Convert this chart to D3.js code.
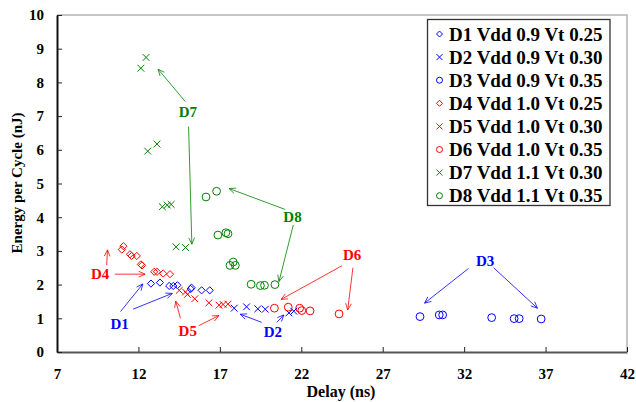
<!DOCTYPE html>
<html>
<head>
<meta charset="utf-8">
<script src="https://d3js.org/d3.v7.min.js"></script>
<style>
  body { margin: 0; background: #fff; }
  text { font-family: "Liberation Serif", "Times New Roman", serif; font-weight: bold; }
</style>
</head>
<body>
<svg id="chart" width="636" height="402"></svg>
<script>
// series data: [delay (ns), energy (nJ)]
var d1 = [[12.77, 2.03], [13.32, 2.06], [13.89, 1.96], [14.14, 1.96], [14.39, 1.98], [15.21, 1.87], [15.26, 1.91], [15.88, 1.83], [16.38, 1.83]];
var d2 = [[17.88, 1.30], [18.64, 1.34], [19.33, 1.28], [19.79, 1.27], [21.24, 1.16], [21.54, 1.21]];
var d3Pts = [[29.29, 1.05], [30.47, 1.10], [30.68, 1.10], [33.69, 1.02], [35.07, 0.99], [35.38, 0.99], [36.73, 0.98]];
var d4 = [[10.98, 3.04], [11.08, 3.14], [11.48, 2.90], [11.58, 2.85], [11.90, 2.85], [12.15, 2.60], [12.22, 2.57], [12.97, 2.38], [13.14, 2.38], [13.52, 2.33], [13.94, 2.31]];
var d5 = [[14.51, 1.83], [14.89, 1.78], [15.01, 1.71], [15.46, 1.58], [16.33, 1.46], [16.95, 1.39], [17.20, 1.41], [17.50, 1.42]];
var d6 = [[20.35, 1.30], [21.20, 1.33], [21.90, 1.30], [22.03, 1.23], [22.54, 1.22], [24.32, 1.13]];
var d7 = [[12.15, 8.42], [12.47, 8.74], [12.57, 5.96], [13.14, 6.17], [13.47, 4.31], [13.77, 4.36], [14.01, 4.38], [14.31, 3.12], [14.89, 3.10]];
var d8 = [[16.15, 4.60], [16.80, 4.77], [16.88, 3.47], [17.37, 3.54], [17.50, 3.51], [17.62, 2.57], [17.82, 2.67], [17.95, 2.57], [18.92, 2.01], [19.49, 1.97], [19.74, 1.98], [20.38, 2.00]];

var seriesNames = ['D1 Vdd 0.9 Vt 0.25', 'D2 Vdd 0.9 Vt 0.30', 'D3 Vdd 0.9 Vt 0.35', 'D4 Vdd 1.0 Vt 0.25',
                   'D5 Vdd 1.0 Vt 0.30', 'D6 Vdd 1.0 Vt 0.35', 'D7 Vdd 1.1 Vt 0.30', 'D8 Vdd 1.1 Vt 0.35'];
var xTicks = [7, 12, 17, 22, 27, 32, 37, 42];
var yTicks = [0, 1, 2, 3, 4, 5, 6, 7, 8, 9, 10];

// callout labels: [label, text x, text y, [[x1, y1, x2, y2], ...]] in data units
var callouts = [
    ['D1', 10.85, 0.83, [[10.90, 1.20, 12.27, 2.02], [11.67, 1.27, 14.08, 1.74]]],
    ['D2', 20.26, 0.58, [[19.57, 0.88, 18.25, 1.12], [20.49, 0.88, 20.93, 1.10]]],
    ['D3', 33.29, 2.71, [[32.27, 2.48, 29.57, 1.45], [33.81, 2.50, 36.50, 1.30]]],
    ['D4', 9.65, 2.31, [[10.05, 2.58, 10.10, 3.03], [10.55, 2.31, 12.41, 2.31]]],
    ['D5', 15.03, 0.62, [[14.58, 1.00, 14.29, 1.51], [15.70, 0.78, 16.94, 1.08]]],
    ['D6', 25.12, 2.88, [[24.50, 2.56, 20.76, 1.56], [25.17, 2.50, 24.85, 1.25]]],
    ['D7', 15.04, 7.12, [[14.88, 7.43, 13.21, 8.39], [15.08, 6.69, 15.28, 3.20]]],
    ['D8', 21.46, 4.01, [[21.01, 4.23, 17.57, 4.85], [21.51, 3.77, 20.63, 2.09]]]
];

(function () {
    var blue = '#0000ff', red = '#ff0000', green = '#008000';
    var series = [
        {data: d1, color: blue, shape: 'diamond'},
        {data: d2, color: blue, shape: 'cross'},
        {data: d3Pts, color: blue, shape: 'circle'},
        {data: d4, color: red, shape: 'diamond'},
        {data: d5, color: red, shape: 'cross'},
        {data: d6, color: red, shape: 'circle'},
        {data: d7, color: green, shape: 'cross'},
        {data: d8, color: green, shape: 'circle'}
    ];
    var calloutColors = [blue, blue, blue, red, red, red, green, green];
    var markSize = {diamond: 3.6, cross: 3.4, circle: 3.9};

    var svg = d3.select('#chart');
    var mLeft = 57, mRight = 627, mTop = 15, mBottom = 352;

    var x = d3.scaleLinear().domain([7, 42]).range([mLeft, mRight]);
    var y = d3.scaleLinear().domain([0, 10]).range([mBottom, mTop]);

    // light frame top and right
    svg.append('path')
        .attr('d', 'M' + mLeft + ',' + mTop + 'H' + mRight + 'V' + mBottom)
        .attr('fill', 'none')
        .attr('stroke', '#b4b4b4')
        .attr('stroke-width', 1.5);

    // axes, ticks pointing inward
    var xAxis = svg.append('g')
        .attr('transform', 'translate(0,' + mBottom + ')')
        .call(d3.axisBottom(x).tickValues(xTicks).tickSizeInner(-5).tickSizeOuter(0).tickPadding(16));
    var yAxis = svg.append('g')
        .attr('transform', 'translate(' + mLeft + ',0)')
        .call(d3.axisLeft(y).tickValues(yTicks).tickSizeInner(-5).tickSizeOuter(0).tickPadding(13));

    xAxis.select('.domain').attr('stroke', '#555').attr('stroke-width', 2);
    yAxis.select('.domain').attr('stroke', '#111').attr('stroke-width', 2);
    [xAxis, yAxis].forEach(function (g) {
        g.selectAll('.tick line').attr('stroke', '#222').attr('stroke-width', 1);
        g.selectAll('.tick text')
            .attr('fill', '#000')
            .style('font-size', '15px')
            .style('font-family', '"Liberation Serif", serif')
            .style('font-weight', 'bold');
    });

    // axis titles
    svg.append('text')
        .attr('x', 342 - 0.5 * 0 - 1)
        .attr('y', 397)
        .attr('text-anchor', 'middle')
        .style('font-size', '16px')
        .text('Delay (ns)');
    svg.append('text')
        .attr('transform', 'translate(22,183) rotate(-90)')
        .attr('text-anchor', 'middle')
        .style('font-size', '15px')
        .text('Energy per Cycle (nJ)');

    function drawMarker(g, shape, color, cx, cy, s) {
        if (shape === 'diamond') {
            g.append('path')
                .attr('d', 'M' + cx + ',' + (cy - s) + 'L' + (cx + s) + ',' + cy + 'L' + cx + ',' + (cy + s) + 'L' + (cx - s) + ',' + cy + 'Z')
                .attr('fill', 'none').attr('stroke', color).attr('stroke-width', 1);
        } else if (shape === 'cross') {
            g.append('path')
                .attr('d', 'M' + (cx - s) + ',' + (cy - s) + 'L' + (cx + s) + ',' + (cy + s) + 'M' + (cx - s) + ',' + (cy + s) + 'L' + (cx + s) + ',' + (cy - s))
                .attr('fill', 'none').attr('stroke', color).attr('stroke-width', 1);
        } else {
            g.append('circle')
                .attr('cx', cx).attr('cy', cy).attr('r', s)
                .attr('fill', 'none').attr('stroke', color).attr('stroke-width', 1);
        }
    }

    var marks = svg.append('g');
    series.forEach(function (s) {
        s.data.forEach(function (p) {
            drawMarker(marks, s.shape, s.color, x(p[0]), y(p[1]), markSize[s.shape]);
        });
    });

    // callouts with open arrowheads
    var notes = svg.append('g');
    function arrow(g, x1, y1, x2, y2, color) {
        var a = Math.atan2(y2 - y1, x2 - x1);
        var len = 7, spread = 0.42;
        g.append('line')
            .attr('x1', x1).attr('y1', y1).attr('x2', x2).attr('y2', y2)
            .attr('stroke', color).attr('stroke-width', 0.8);
        g.append('path')
            .attr('d', 'M' + (x2 - len * Math.cos(a - spread)) + ',' + (y2 - len * Math.sin(a - spread)) +
                'L' + x2 + ',' + y2 +
                'L' + (x2 - len * Math.cos(a + spread)) + ',' + (y2 - len * Math.sin(a + spread)))
            .attr('fill', 'none').attr('stroke', color).attr('stroke-width', 0.8);
    }
    callouts.forEach(function (c, i) {
        var color = calloutColors[i];
        notes.append('text')
            .attr('x', x(c[1])).attr('y', y(c[2]))
            .attr('text-anchor', 'middle')
            .attr('dominant-baseline', 'central')
            .attr('fill', color)
            .style('font-size', '15px')
            .text(c[0]);
        c[3].forEach(function (l) {
            arrow(notes, x(l[0]), y(l[1]), x(l[2]), y(l[3]), color);
        });
    });

    // legend
    var legend = svg.append('g');
    legend.append('rect')
        .attr('x', 427.5).attr('y', 19.5).attr('width', 182.5).attr('height', 186)
        .attr('fill', '#fff').attr('stroke', '#333').attr('stroke-width', 1.3);
    seriesNames.forEach(function (name, i) {
        var ly = 34 + i * 23.1;
        drawMarker(legend, series[i].shape, series[i].color, 439.5, ly, 3);
        legend.append('text')
            .attr('x', 449).attr('y', ly)
            .attr('dominant-baseline', 'central')
            .style('font-size', '19px')
            .text(name);
    });
})();
</script>
</body>
</html>
